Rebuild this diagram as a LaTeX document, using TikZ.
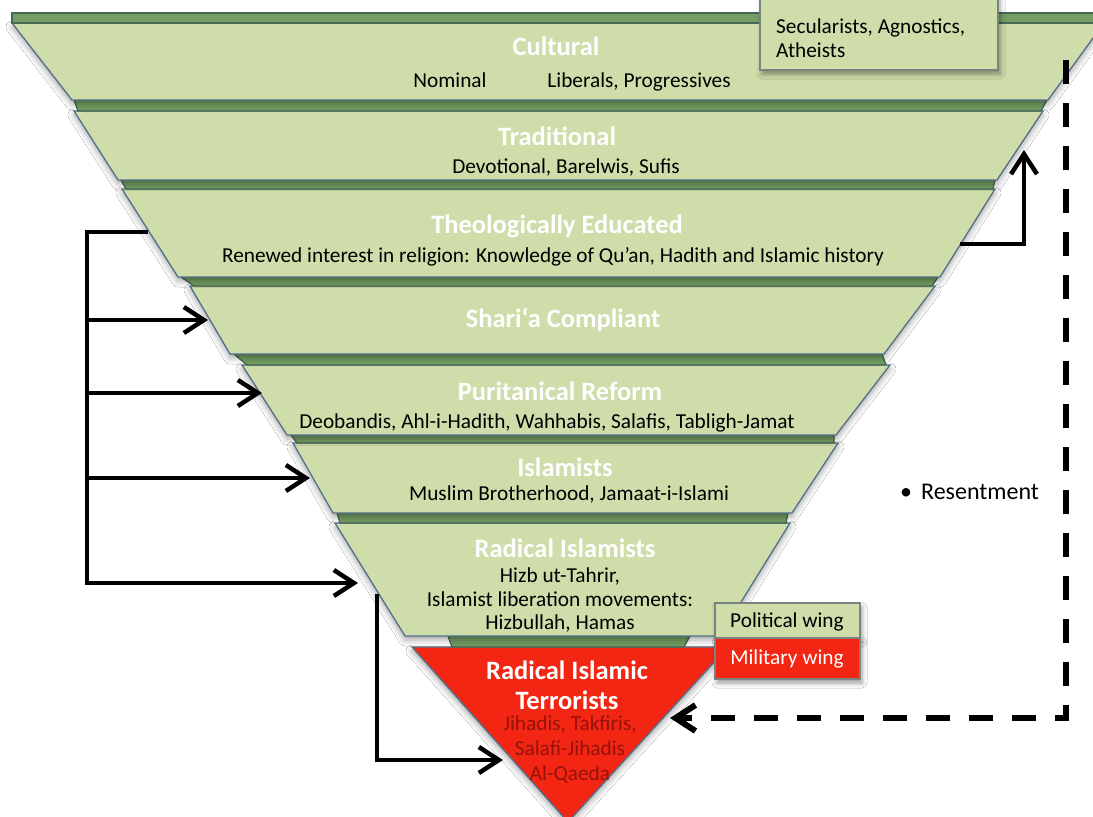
\documentclass[tikz,border=0pt]{standalone}
\usepackage{fontspec}
\setmainfont{Carlito}
\usetikzlibrary{arrows.meta,shadows.blur}
\definecolor{pale}{RGB}{206,221,170}
\definecolor{edgeblue}{RGB}{82,112,140}
\definecolor{bandfill}{RGB}{116,158,98}
\definecolor{bandedge}{RGB}{70,104,84}
\definecolor{terror}{RGB}{242,38,18}
\definecolor{terrtext}{RGB}{150,18,12}
\definecolor{boxedge}{RGB}{120,132,128}
\tikzset{
  layer/.style={fill=pale,draw=edgeblue,line width=1.3pt,
    blur shadow={shadow xshift=0pt,shadow yshift=-4pt,shadow blur radius=6pt,shadow opacity=35}},
  redlayer/.style={layer,fill=terror},
  band/.style={fill=bandfill,draw=bandedge,line width=1.3pt},
  ttl/.style={text=white,font=\fontsize{26.5}{30}\selectfont\bfseries,align=center,inner sep=0pt},
  sub/.style={text=black,font=\fontsize{21.3}{23.5}\selectfont,align=center,inner sep=0pt},
  redsub/.style={sub,text=terrtext,font=\fontsize{21.3}{25}\selectfont},
  conn/.style={line width=4.5pt,line join=miter,-{Straight Barb[length=20pt,width=26pt]}},
  dashconn/.style={line width=6pt,line join=miter,dash pattern=on 24pt off 19pt,-{Straight Barb[length=20pt,width=26pt]}},
  box/.style={draw=boxedge,line width=1.2pt,
    blur shadow={shadow xshift=2pt,shadow yshift=-4pt,shadow blur radius=5pt,shadow opacity=40}},
}
\begin{document}
\begin{tikzpicture}[x=1pt,y=-1pt]
\useasboundingbox (0,0) rectangle (1093,817);
\fill[white] (0,0) rectangle (1093,817);
% red triangle (layer 8)
\path[redlayer] (412,647) -- (728,647) -- (568,822) -- cycle;
\path[band] (448,636) -- (690,636) -- (684,647) -- (452,647) -- cycle;
% layer 7 Radical Islamists
\path[layer] (335,523) -- (790,523) -- (720,636) -- (405,636) -- cycle;
\path[band] (337,513) -- (788,513) -- (786,523) -- (340,523) -- cycle;
% layer 6 Islamists
\path[layer] (293,443) -- (838,443) -- (792,513) -- (333,513) -- cycle;
\path[band] (291,435) -- (834,435) -- (834,443) -- (297,443) -- cycle;
% layer 5 Puritanical
\path[layer] (242,365) -- (890,365) -- (836,435) -- (287,435) -- cycle;
\path[band] (234,354) -- (882,354) -- (886,365) -- (247,365) -- cycle;
% layer 4 Sharia
\path[layer] (190,286) -- (935,286) -- (884,354) -- (230,354) -- cycle;
\path[band] (181,277) -- (938,277) -- (932,286) -- (194,286) -- cycle;
% layer 3 Theological
\path[layer] (122,189) -- (995,189) -- (940,277) -- (178,277) -- cycle;
\path[band] (121,180) -- (995,180) -- (993,189) -- (126,189) -- cycle;
% layer 2 Traditional
\path[layer] (74,111) -- (1043,111) -- (997,180) -- (118,180) -- cycle;
\path[band] (74,100) -- (1047,100) -- (1041,111) -- (78,111) -- cycle;
% layer 1 Cultural
\path[layer] (12,23) -- (1104,23) -- (1048,100) -- (72,100) -- cycle;
\path[band] (12,13) -- (1104,13) -- (1104,23) -- (12,23) -- cycle;

% side boxes
\path[box,fill=pale] (760,-4) rectangle (998,70);
\path[box,fill=pale] (715,603) rectangle (860,638);
\path[box,fill=terror] (715,638) rectangle (860,679);

% texts
\node[ttl] (cul) at (556,46) {Cultural};
\node[sub,anchor=base] (nom) at (450,87) {Nominal};
\node[sub,anchor=base] (lib) at (639,87) {Liberals, Progressives};
\node[ttl] (tra) at (557,136) {Traditional};
\node[sub] (dev) at (566,167) {Devotional, Barelwis, Sufis};
\node[ttl] (the) at (557,226) {Theologically Educated};
\node[sub] (ren) at (553,257) {Renewed interest in religion: Knowledge of Qu’an, Hadith and Islamic history};
\node[ttl] (sha) at (563,320) {Shari‘a Compliant};
\node[ttl] (pur) at (560,391) {Puritanical Reform};
\node[sub] (deo) at (547,423) {Deobandis, Ahl-i-Hadith, Wahhabis, Salafis, Tabligh-Jamat};
\node[ttl] (isl) at (565,467) {Islamists};
\node[sub] (mus) at (569,494) {Muslim Brotherhood, Jamaat-i-Islami};
\node[ttl] (rad) at (565,548) {Radical Islamists};
\node[sub] (hiz) at (560,600) {Hizb ut-Tahrir,\\Islamist liberation movements:\\Hizbullah, Hamas};
\node[ttl] (ter) at (567,685) {Radical Islamic\\Terrorists};
\node[redsub] (jih) at (570,750) {Jihadis, Takfiris,\\Salafi-Jihadis\\Al-Qaeda};
\node[sub,anchor=north west,align=left] (sec) at (776,19) {Secularists, Agnostics,\\Atheists};
\node[sub] (pol) at (787,622) {Political wing};
\node[sub,text=white] (mil) at (787,659) {Military wing};
\node[sub,anchor=base west,font=\fontsize{24}{26}\selectfont] (res) at (900,499) {•\hspace{9pt}Resentment};

% connectors
\coordinate (thL) at (148,232);
\coordinate (brTop) at (87,232);
\coordinate (brBot) at (87,583);
\coordinate (b1) at (87,320);
\coordinate (b2) at (87,393);
\coordinate (b3) at (87,478);
\coordinate (shL) at (208,320);
\coordinate (puL) at (262,393);
\coordinate (isL) at (310,478);
\coordinate (raL) at (358,583);
\draw[conn] (thL) -- (brTop) -- (brBot) -- (raL);
\draw[conn] (b1) -- (shL);
\draw[conn] (b2) -- (puL);
\draw[conn] (b3) -- (isL);

\coordinate (thR) at (960,244);
\coordinate (rc) at (1024,244);
\coordinate (trR) at (1024,150);
\draw[conn] (thR) -- (rc) -- (trR);

\coordinate (raB) at (377,594);
\coordinate (bc) at (377,760);
\coordinate (teL) at (503,760);
\draw[conn] (raB) -- (bc) -- (teL);

\coordinate (dTop) at (1066,60);
\coordinate (dc) at (1066,718);
\coordinate (teR) at (670,718);
\draw[dashconn] (dTop) -- (dc) -- (teR);
\end{tikzpicture}
\end{document}
